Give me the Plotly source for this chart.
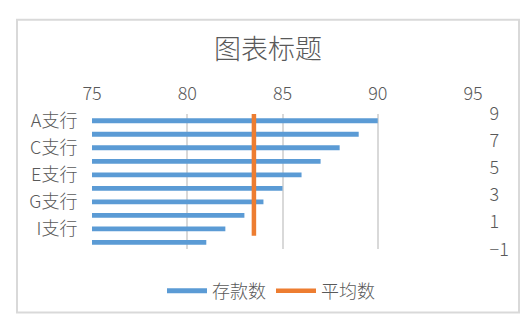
import plotly.graph_objects as go

# Branch deposit data
branches = ["A支行", "B支行", "C支行", "D支行", "E支行",
            "F支行", "G支行", "H支行", "I支行", "J支行"]
deposits = [90, 89, 88, 87, 86, 85, 84, 83, 82, 81]
shown_branch_labels = ["A支行", "C支行", "E支行", "G支行", "I支行"]

# Average marker line (drawn on the secondary y scale)
average_value = 83.5
average_span = [0, 9]

x_ticks = [75, 80, 85, 90, 95]
y2_ticks = [-1, 1, 3, 5, 7, 9]

BLUE = "#5B9BD5"
ORANGE = "#ED7D31"
GRID = "#D9D9D9"
TEXT = "#595959"
FONT = "Noto Sans CJK SC, sans-serif"
WEIGHT = 300

fig = go.Figure()

fig.add_trace(go.Bar(
    x=deposits, y=branches, orientation="h",
    marker=dict(color=BLUE, line=dict(width=0)),
    name="存款数", showlegend=False,
    xaxis="x", yaxis="y",
))

# Legend-only entry so the deposit series shows a line-style swatch
fig.add_trace(go.Scatter(
    x=[None], y=[None], mode="lines",
    line=dict(color=BLUE, width=5),
    name="存款数", xaxis="x", yaxis="y2",
))

fig.add_trace(go.Scatter(
    x=[average_value, average_value], y=average_span, mode="lines",
    line=dict(color=ORANGE, width=4.5),
    name="平均数", xaxis="x", yaxis="y2",
))

# Plot area spans x 92..473, y 114..253 in a 525x329 page
L, R, T, B = 92, 473, 114, 253
W, H = R - L, B - T


def px_x(p):
    return (p - L) / W


def px_y(p):
    return (B - p) / H


tick_font = dict(size=18, color=TEXT, family=FONT, weight=WEIGHT)

fig.update_layout(
    width=525, height=329,
    margin=dict(l=L, r=525 - R, t=T, b=329 - B),
    paper_bgcolor="white", plot_bgcolor="white",
    font=dict(family=FONT, size=18, color=TEXT, weight=WEIGHT),
    bargap=0.64,
    title=dict(text="图表标题", x=268 / 525, xanchor="center",
               y=1 - 50 / 329, yanchor="middle",
               font=dict(size=27, color=TEXT, family=FONT, weight=WEIGHT)),
    xaxis=dict(
        side="top", range=[75, 95], tickvals=x_ticks,
        showgrid=True, gridcolor=GRID, gridwidth=1.5,
        zeroline=False, showline=False,
        ticks="outside", ticklen=6, tickcolor="rgba(0,0,0,0)",
        tickfont=tick_font,
    ),
    yaxis=dict(
        type="category", categoryorder="array", categoryarray=branches,
        autorange="reversed",
        tickmode="array", tickvals=shown_branch_labels,
        showgrid=False, zeroline=False, showline=False,
        ticks="outside", ticklen=10, tickcolor="rgba(0,0,0,0)",
        tickfont=tick_font,
    ),
    yaxis2=dict(
        overlaying="y", side="right", range=[-1, 9],
        tickvals=y2_ticks,
        showgrid=False, zeroline=False, showline=False,
        ticks="outside", ticklen=12, tickcolor="rgba(0,0,0,0)",
        tickfont=tick_font,
    ),
    legend=dict(
        orientation="h", xref="container", yref="container",
        x=271 / 525, xanchor="center", y=1 - 291 / 329, yanchor="middle",
        font=tick_font, itemwidth=40,
    ),
    shapes=[dict(
        type="rect", xref="paper", yref="paper",
        x0=px_x(17), x1=px_x(519), y0=px_y(318), y1=px_y(17),
        line=dict(color=GRID, width=2), fillcolor="rgba(0,0,0,0)",
        layer="below",
    )],
)

fig.write_html("out.html")
